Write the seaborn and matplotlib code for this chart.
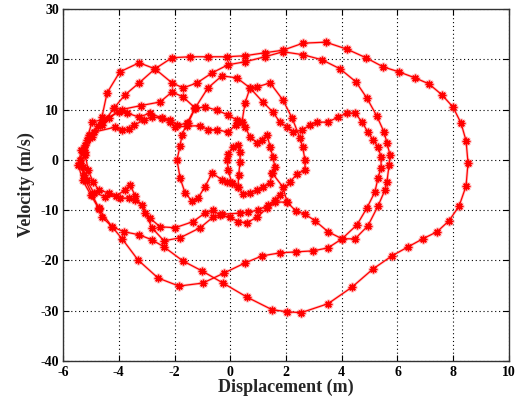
import matplotlib
matplotlib.use("Agg")
import matplotlib.pyplot as plt
import numpy as np
import pandas as pd
import seaborn as sns

# Phase trajectory: displacement (m) vs velocity (m/s), stored as connected pieces
core_x = [0.28, 0.30, 0.35, 0.35, 0.28, 0.10, -0.08, -0.10, -0.08, 0.06]
core_y = [-5.4, -3.0, -0.5, 1.6, 3.0, 2.6, 1.2, 0.0, -2.0, -4.6]

inner_x = [-1.26, -0.91, -0.48, -0.08, 0.24, 0.42, 0.53, 0.71, 0.96, 1.14, 1.32, 1.43,
           1.53, 1.60, 1.50, 1.43, 1.17, 0.96, 0.71, 0.46, 0.28, 0.06, -0.12, -0.30,
           -0.65, -0.91, -1.16, -1.37, -1.62, -1.80, -1.91, -1.80, -1.73, -1.55, -1.26]
inner_y = [10.3, 10.5, 9.9, 8.9, 7.9, 7.5, 6.5, 4.6, 3.4, 4.0, 5.0, 2.6,
           0.6, -1.4, -2.6, -4.6, -5.4, -6.0, -6.6, -6.8, -5.4, -4.6, -4.4, -4.0,
           -2.6, -5.4, -7.6, -8.2, -6.6, -3.6, 0.0, 2.8, 5.0, 7.3, 10.3]

link_x = [1.50, 1.89, 2.04]
link_y = [-2.6, -5.4, -8.4]

outer_x = [-4.71, -4.95, -5.20, -5.35, -5.30, -5.05, -4.75, -4.60, -4.42, -3.96, -3.27,
           -2.70, -2.09, -1.44, -0.80, -0.12, 0.53, 1.25, 1.89, 2.61, 3.43, 4.19, 4.87,
           5.48, 6.05, 6.63, 7.13, 7.60, 7.99, 8.28, 8.46, 8.53, 8.46, 8.21, 7.85, 7.42,
           6.91, 6.38, 5.80, 5.12, 4.37, 3.51, 2.54, 2.04, 1.50, 0.60, -0.26, -1.01,
           -1.70, -2.38, -2.81, -3.27, -3.81, -4.24, -4.60, -4.71]
outer_y = [-9.6, -7.0, -4.0, -1.0, 2.0, 4.5, 6.8, 8.6, 13.3, 17.5, 19.3,
           18.1, 20.3, 20.5, 20.5, 20.5, 20.7, 21.3, 21.8, 23.2, 23.4, 22.0, 20.3,
           18.5, 17.5, 16.3, 15.1, 12.9, 10.5, 7.3, 3.8, -0.6, -5.2, -9.2, -12.1, -14.3,
           -15.7, -17.3, -19.1, -21.7, -25.3, -28.6, -30.4, -30.2, -29.8, -27.3, -24.5, -22.1,
           -20.1, -17.3, -15.9, -14.9, -14.3, -13.3, -11.4, -9.6]

cycle2_x = [-5.25, -5.40, -5.20, -4.90, -4.13, -3.88, -3.63, -3.45, -3.10, -2.81, -2.45,
            -2.16, -1.98, -1.55, -1.10, -0.80, -0.48, -0.08, 0.20, 0.42, 0.53, 0.71,
            0.96, 1.43, 1.89, 2.22, 2.50, 2.60, 2.68, 2.68, 2.40, 2.14, 1.78, 1.60,
            1.35, 1.00, 0.64, 0.35, -0.30, -0.62, -1.08, -1.80, -2.38, -2.81, -3.05,
            -3.40, -3.60, -3.78, -4.10, -4.50, -4.90, -5.15, -5.30, -5.20, -4.95, -4.60,
            -4.17]
cycle2_y = [-3.0, 0.0, 3.0, 5.5, 6.5, 5.9, 6.1, 6.9, 7.9, 8.5, 8.3,
            7.6, 6.5, 6.7, 6.8, 6.0, 6.0, 5.5, 7.0, 7.5, 11.3, 14.3,
            14.5, 15.3, 11.9, 8.3, 4.4, 2.5, 0.0, -2.0, -2.8, -4.4, -7.0, -8.0,
            -9.0, -10.0, -10.4, -10.6, -10.8, -11.4, -13.5, -15.5, -16.1, -13.5, -10.5,
            -7.2, -5.0, -6.0, -7.2, -7.3, -6.5, -4.0, -1.5, 1.5, 4.5, 7.0,
            10.3]

cycle3_x = [-4.17, -3.78, -3.27, -2.70, -2.09, -1.69, -1.19, -0.65, -0.08, 0.53, 1.25,
            1.89, 2.61, 3.29, 3.94, 4.51, 4.90, 5.26, 5.52, 5.62, 5.73, 5.70, 5.62,
            5.55, 5.30, 4.94, 4.48, 4.01, 3.51, 3.04, 2.68, 2.36, 2.04, 1.60, 1.32,
            0.96, 0.60, 0.28, 0.00, -0.37, -0.62, -0.91, -1.34, -1.98, -2.52, -2.88,
            -3.17, -3.42, -3.63, -3.96, -4.35, -4.71, -4.92, -5.10, -5.20, -5.15, -4.96,
            -4.53, -4.35, -4.00, -3.70, -3.27, -2.88, -2.45, -2.16, -1.91, -1.51, -1.26]
cycle3_y = [10.3, 12.9, 15.3, 18.1, 15.3, 14.3, 15.3, 17.3, 18.9, 19.5, 20.5,
            21.5, 20.9, 19.9, 18.1, 15.5, 12.3, 8.7, 5.5, 3.4, 1.0, -1.0, -4.4,
            -6.0, -9.2, -13.1, -15.7, -15.7, -14.3, -12.1, -10.8, -10.2, -8.4, -8.4, -9.6,
            -11.4, -12.5, -12.3, -11.4, -11.0, -10.0, -10.6, -12.3, -13.5, -13.3, -11.6,
            -9.0, -8.0, -7.6, -7.6, -6.6, -6.0, -4.4, -2.0, 1.0, 4.0, 7.5,
            8.1, 8.3, 9.6, 9.3, 8.5, 9.3, 8.3, 7.9, 6.9, 7.3, 10.3]

cycle4_x = [-1.26, -0.80, -0.30, 0.24, 0.71, 1.17, 1.53, 1.78, 2.04, 2.25, 2.57,
            2.86, 3.11, 3.50, 3.87, 4.19, 4.48, 4.73, 4.94, 5.12, 5.30, 5.41, 5.41,
            5.30, 5.19, 4.90, 4.55, 4.01, 3.51, 2.97, 2.36, 1.78, 1.14, 0.53, -0.22,
            -0.98, -1.84, -2.59, -3.31, -3.88, -4.24, -4.71, -5.00, -5.30, -5.45, -5.35,
            -5.05, -4.60, -3.90, -3.20, -2.52, -2.09, -1.69, -1.26]
cycle4_y = [10.3, 14.3, 16.7, 16.3, 14.3, 11.5, 9.5, 7.5, 6.5, 5.5, 5.9,
            6.9, 7.5, 7.5, 8.5, 9.3, 9.3, 7.5, 5.5, 4.0, 2.6, 0.6, -1.6,
            -3.6, -6.4, -9.6, -12.9, -15.7, -17.5, -18.1, -18.3, -18.5, -19.1, -20.5, -22.5,
            -24.5, -25.1, -23.5, -19.9, -15.7, -13.3, -9.8, -7.0, -4.0, -1.0, 2.0,
            5.0, 7.6, 10.0, 10.8, 11.5, 13.5, 12.5, 10.3]

pieces = {
    "core": (core_x, core_y),
    "inner": (inner_x, inner_y),
    "link": (link_x, link_y),
    "outer": (outer_x, outer_y),
    "cycle2": (cycle2_x, cycle2_y),
    "cycle3": (cycle3_x, cycle3_y),
    "cycle4": (cycle4_x, cycle4_y),
}
frames = []
for name, (xs, ys) in pieces.items():
    frames.append(pd.DataFrame({"disp": xs, "vel": ys, "piece": name,
                                "step": np.arange(len(xs))}))
df = pd.concat(frames, ignore_index=True)

x_ticks = [-6, -4, -2, 0, 2, 4, 6, 8, 10]
y_ticks = [-40, -30, -20, -10, 0, 10, 20, 30]

sns.set_theme(style="white")
plt.rcParams["font.family"] = ["Liberation Serif", "DejaVu Serif"]

fig = plt.figure(figsize=(5.19, 4.08), dpi=100)
ax = fig.add_axes([0.1214, 0.1152, 0.8593, 0.8628])

# soft halo under the trace
sns.lineplot(data=df, x="disp", y="vel", units="piece", estimator=None, sort=False,
             color="#ff8c8c", linewidth=2.0, marker=(8, 2, 0), markersize=7,
             markeredgewidth=1.8, markeredgecolor="#ff9a9a", alpha=0.5,
             legend=False, ax=ax)
sns.lineplot(data=df, x="disp", y="vel", units="piece", estimator=None, sort=False,
             color="#ff0000", linewidth=0.9, marker=(8, 2, 0), markersize=5.5,
             markeredgewidth=1.0, markeredgecolor="#ff0000",
             legend=False, ax=ax)

ax.set_xlim(-6, 10)
ax.set_ylim(-40, 30)
ax.set_xticks(x_ticks)
ax.set_yticks(y_ticks)
ax.set_xticklabels([str(t) for t in x_ticks], fontweight="bold", fontsize=10)
ax.set_yticklabels([str(t) for t in y_ticks], fontweight="bold", fontsize=10)
ax.grid(True, color="black", linestyle=(0, (1, 2.5)), linewidth=0.8)
ax.tick_params(direction="in", top=True, right=True, length=4, width=0.8,
               colors="black", bottom=True, left=True)
ax.tick_params(axis="x", pad=3.5)
ax.tick_params(axis="y", pad=3)
for sp in ax.spines.values():
    sp.set_visible(True)
    sp.set_color("#333333")
    sp.set_linewidth(1.0)
ax.set_xlabel("Displacement (m)", fontweight="bold", fontsize=13, labelpad=0)
ax.set_ylabel("Velocity (m/s)", fontweight="bold", fontsize=13, labelpad=4)

fig.savefig("out.png", dpi=100, facecolor="white")
